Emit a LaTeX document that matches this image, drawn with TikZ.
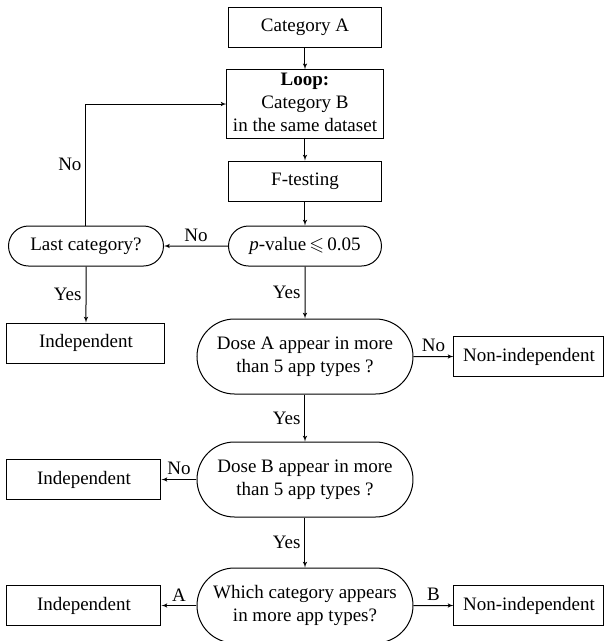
\documentclass[tikz,border=0pt]{standalone}
\usepackage{amsmath}
\usepackage{amssymb}
\usepackage{fontspec}
\setmainfont{Liberation Serif}
\usepackage{tikz}
\usetikzlibrary{arrows,positioning,shapes.misc}

\begin{document}
\begin{tikzpicture}[
    auto,
    node distance=77pt,
    >=latex',
    line width=1pt,
    font=\fontsize{19}{22.8}\selectfont,
    block/.style={
		rectangle,
		draw=black,
		text centered,
		minimum width=153pt,
		minimum height=40pt,
		inner sep=0pt,
		fill=white
	},
	decision/.style={
		rounded rectangle,
		draw=black,
		text centered,
		minimum width=153pt,
		minimum height=40pt,
		inner sep=0pt
	},
	bigdecision/.style={
		decision,
		minimum width=216pt,
		minimum height=75pt
	},
	answer/.style={
		inner sep=4pt
	}
  ]
    % frame of the picture
  \useasboundingbox (-305pt,27pt) rectangle (301pt,-614pt);

    % main column
  \node [block] (catA) {Category A};

  \node [block, below of=catA] (loop)
 {%
 \begin{tabular}{c}
  \textbf{Loop:}\\
  Category B\\
  in the same dataset
 \end{tabular}
 };

  \node [block, below of=loop] (ftest) {F-testing};

  \node [decision, node distance=65pt, below of=ftest] (pvalue)
 {\textit{p}-value\,$\leqslant$\,0.05};

  \node [decision, node distance=219pt, left of=pvalue, minimum width=155pt] (last)
 {Last category?};

  \node [block, node distance=97pt, below of=last, minimum width=158pt] (indep1)
 {Independent};

  \node [bigdecision, node distance=110.5pt, below of=pvalue] (doseA)
 {%
 \begin{tabular}{c}
  Dose A appear in more\\
  than 5 app types ?
 \end{tabular}
 };

  \node [block, node distance=224pt, right of=doseA, minimum width=150pt] (nonindep1)
 {Non-independent};

  \node [bigdecision, node distance=123pt, below of=doseA] (doseB)
 {%
 \begin{tabular}{c}
  Dose B appear in more\\
  than 5 app types ?
 \end{tabular}
 };

  \node [block, node distance=221pt, left of=doseB, minimum width=154pt] (indep2)
 {Independent};

  \node [bigdecision, node distance=126pt, below of=doseB] (which)
 {%
 \begin{tabular}{c}
  Which category appears\\
  in more app types?
 \end{tabular}
 };

  \node [block, node distance=221pt, left of=which, minimum width=154pt] (indep3)
 {Independent};

  \node [block, node distance=224pt, right of=which, minimum width=150pt] (nonindep3)
 {Non-independent};

    % connectors
 \draw [->] (catA) -- (loop);
 \draw [->] (loop) -- (ftest);
 \draw [->] (ftest) -- (pvalue);
 \draw [->] (pvalue) -- node [answer, above] {No} (last);
 \draw [->] (last) |- node [answer, pos=0.25, left] {No} (loop);
 \draw [->] (last) -- node [answer, left] {Yes} (indep1);
 \draw [->] (pvalue) -- node [answer, left] {Yes} (doseA);
 \draw [->] (doseA) -- node [answer, above] {No} (nonindep1);
 \draw [->] (doseA) -- node [answer, left] {Yes} (doseB);
 \draw [->] (doseB) -- node [answer, above] {No} (indep2);
 \draw [->] (doseB) -- node [answer, left] {Yes} (which);
 \draw [->] (which) -- node [answer, above] {A} (indep3);
 \draw [->] (which) -- node [answer, above] {B} (nonindep3);

\end{tikzpicture}
\end{document}
